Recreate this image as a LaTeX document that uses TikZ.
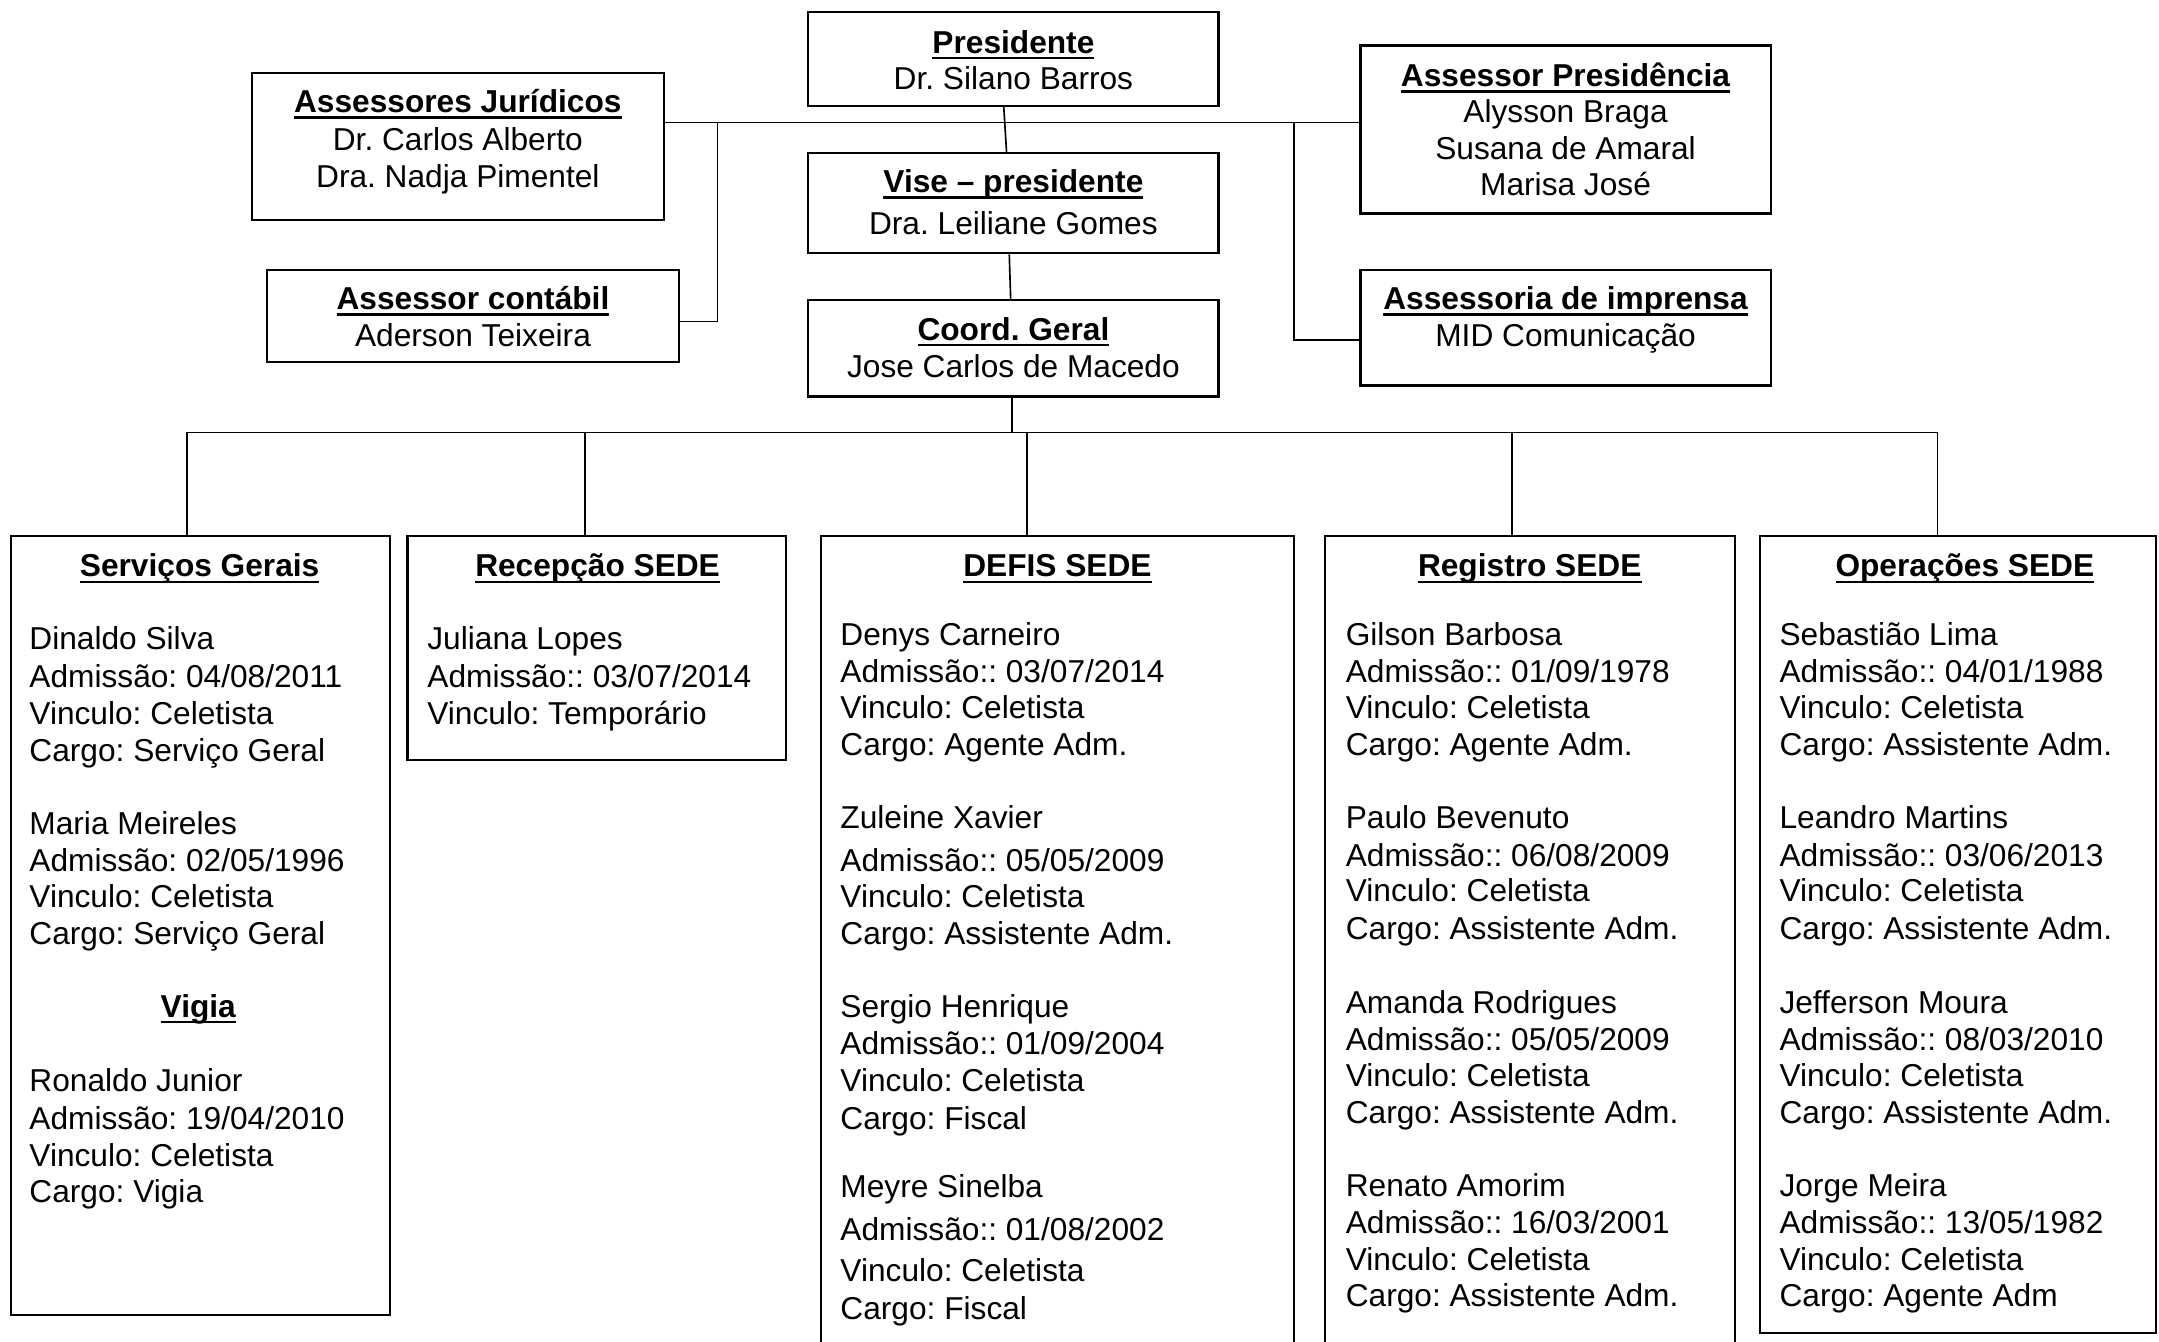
\documentclass[tikz,border=0pt]{standalone}
\usepackage{fontspec}
\setmainfont{Liberation Sans}
\usetikzlibrary{fit,calc}
\frenchspacing
\newcommand{\ulh}[1]{\setbox0\hbox{\bfseries #1}\rlap{\raisebox{-2.1pt}{\rule{\wd0}{0.8pt}}}\box0}
\newcommand{\txtl}[4]{\foreach \ly/\lt [count=\li] in {#4}{\node[txt,anchor=#2] (#1-\li) at (#3,\ly) {\lt};}}
\tikzset{
  box/.style={draw, line width=0.8pt, inner sep=0pt},
  conn/.style={line width=0.6pt},
  txt/.style={inner sep=0pt, font=\fontsize{11.5}{13.3}\selectfont\frenchspacing},
}
\begin{document}
\begin{tikzpicture}[x=0.5pt, y=-0.5pt]
\useasboundingbox (0,0) rectangle (1568,974);
\clip (0,0) rectangle (1568,974);

% ---------- top boxes ----------
\node[box, fit={(587,9) (885,77)}] (pres) {};
\node[box, fit={(183,53) (482,160)}] (jur) {};
\node[box, fit={(988,33) (1286,155)}] (apres) {};
\node[box, fit={(587,111) (885,184)}] (vise) {};
\node[box, fit={(194,196) (493,263)}] (cont) {};
\node[box, fit={(988,196) (1286,280)}] (imp) {};
\node[box, fit={(587,218) (885,288)}] (coord) {};

\node[txt, anchor=base] (presH) at (736,39) {\ulh{Presidente}};
\txtl{presT}{base}{736}{65/{Dr. Silano Barros}}
\node[txt, anchor=base] (jurH) at (332.5,82) {\ulh{Assessores Jurídicos}};
\txtl{jurT}{base}{332.5}{109/{Dr. Carlos Alberto},136/{Dra. Nadja Pimentel}}
\node[txt, anchor=base] (apresH) at (1137,63) {\ulh{Assessor Presidência}};
\txtl{apresT}{base}{1137}{89/{Alysson Braga},116/{Susana de Amaral},142/{Marisa José}}
\node[txt, anchor=base] (viseH) at (736,140) {\ulh{Vise – presidente}};
\txtl{viseT}{base}{736}{170/{Dra. Leiliane Gomes}}
\node[txt, anchor=base] (contH) at (343.5,225) {\ulh{Assessor contábil}};
\txtl{contT}{base}{343.5}{252/{Aderson Teixeira}}
\node[txt, anchor=base] (impH) at (1137,225) {\ulh{Assessoria de imprensa}};
\txtl{impT}{base}{1137}{252/{MID Comunicação}}
\node[txt, anchor=base] (coordH) at (736,247) {\ulh{Coord. Geral}};
\txtl{coordT}{base}{736}{274/{Jose Carlos de Macedo}}

% ---------- top connectors ----------
\coordinate (tb) at (0,89);
\coordinate (jl) at (521,89);
\coordinate (jr) at (940,89);
\draw[conn] (jur.east |- tb) -- (apres.west |- tb);
\draw[conn] ($(pres.south)+(-7,0)$) -- ($(vise.north)+(-5,0)$);
\draw[conn] ($(vise.south)+(-3,0)$) -- ($(coord.north)+(-2,0)$);
\draw[conn] (jl) |- ($(cont.east)+(0,4)$);
\draw[conn] (jr) |- ($(imp.west)+(0,9)$);

% ---------- bottom boxes ----------
\node[box, fit={(8,389) (283,955)}] (serv) {};
\node[box, fit={(296,389) (571,552)}] (rec) {};
\node[box, fit={(596,389) (940,995)}] (defis) {};
\node[box, fit={(962,389) (1260,995)}] (reg) {};
\node[box, fit={(1278,389) (1566,968)}] (op) {};

% ---------- bus ----------
\coordinate (b1) at (136,314);
\coordinate (b2) at (425,314);
\coordinate (b3) at (746,314);
\coordinate (b4) at (1098,314);
\coordinate (b5) at (1407,314);
\draw[conn] ($(coord.south)+(-1,0)$) -- ($(coord.south |- b1)+(-1,0)$);
\draw[conn] (b1) -- (b5);
\draw[conn] (b1) -- (b1 |- serv.north);
\draw[conn] (b2) -- (b2 |- rec.north);
\draw[conn] (b3) -- (b3 |- defis.north);
\draw[conn] (b4) -- (b4 |- reg.north);
\draw[conn] (b5) -- (b5 |- op.north);

% ---------- Servicos Gerais ----------
\node[txt, anchor=base] (servH) at (145,419) {\ulh{Serviços Gerais}};
\txtl{servT}{base west}{21}{472/{Dinaldo Silva},499/{Admissão: 04/08/2011},526/{Vinculo: Celetista},553/{Cargo: Serviço Geral},606/{Maria Meireles},633/{Admissão: 02/05/1996},659/{Vinculo: Celetista},686/{Cargo: Serviço Geral}}
\node[txt, anchor=base] (vigH) at (144,739) {\ulh{Vigia}};
\txtl{vigT}{base west}{21}{793/{Ronaldo Junior},820/{Admissão: 19/04/2010},847/{Vinculo: Celetista},873/{Cargo: Vigia}}

% ---------- Recepcao ----------
\node[txt, anchor=base] (recH) at (434,419) {\ulh{Recepção SEDE}};
\txtl{recT}{base west}{310}{472/{Juliana Lopes},499/{Admissão:: 03/07/2014},526/{Vinculo: Temporário}}

% ---------- DEFIS ----------
\node[txt, anchor=base] (defisH) at (768,419) {\ulh{DEFIS SEDE}};
\txtl{defisT}{base west}{610}{469/{Denys Carneiro},496/{Admissão:: 03/07/2014},522/{Vinculo: Celetista},549/{Cargo: Agente Adm.},602/{Zuleine Xavier},633/{Admissão:: 05/05/2009},659/{Vinculo: Celetista},686/{Cargo: Assistente Adm.},739/{Sergio Henrique},766/{Admissão:: 01/09/2004},793/{Vinculo: Celetista},820/{Cargo: Fiscal},870/{Meyre Sinelba},901/{Admissão:: 01/08/2002},931/{Vinculo: Celetista},958/{Cargo: Fiscal}}

% ---------- Registro ----------
\node[txt, anchor=base] (regH) at (1111,419) {\ulh{Registro SEDE}};
\txtl{regT}{base west}{977}{469/{Gilson Barbosa},496/{Admissão:: 01/09/1978},522/{Vinculo: Celetista},549/{Cargo: Agente Adm.},602/{Paulo Bevenuto},629/{Admissão:: 06/08/2009},655/{Vinculo: Celetista},682/{Cargo: Assistente Adm.},736/{Amanda Rodrigues},763/{Admissão:: 05/05/2009},789/{Vinculo: Celetista},816/{Cargo: Assistente Adm.},869/{Renato Amorim},896/{Admissão:: 16/03/2001},923/{Vinculo: Celetista},949/{Cargo: Assistente Adm.}}

% ---------- Operacoes ----------
\node[txt, anchor=base] (opH) at (1427,419) {\ulh{Operações SEDE}};
\txtl{opT}{base west}{1292}{469/{Sebastião Lima},496/{Admissão:: 04/01/1988},522/{Vinculo: Celetista},549/{Cargo: Assistente Adm.},602/{Leandro Martins},629/{Admissão:: 03/06/2013},655/{Vinculo: Celetista},682/{Cargo: Assistente Adm.},736/{Jefferson Moura},763/{Admissão:: 08/03/2010},789/{Vinculo: Celetista},816/{Cargo: Assistente Adm.},869/{Jorge Meira},896/{Admissão:: 13/05/1982},923/{Vinculo: Celetista},949/{Cargo: Agente Adm}}
\end{tikzpicture}
\end{document}
